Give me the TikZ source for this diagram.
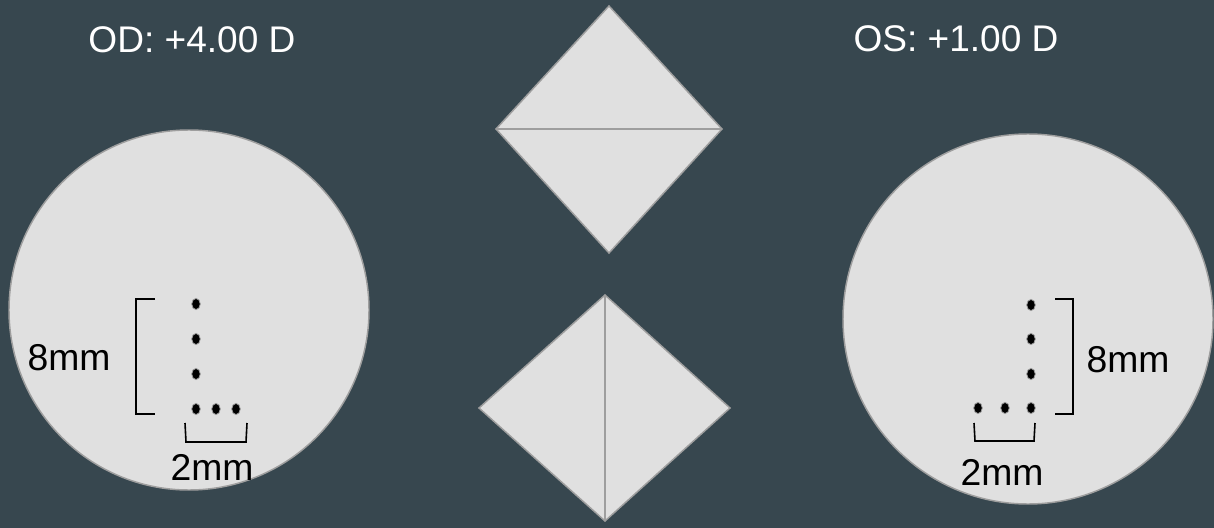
\documentclass[tikz,border=0pt]{standalone}
\usepackage{xcolor}
\usepackage{fontspec}
\setmainfont{Liberation Sans}
\usepackage{tikz}
\usetikzlibrary{shapes.geometric}
\usetikzlibrary{positioning}

\definecolor{slatebg}{HTML}{37474F}
\definecolor{lensfill}{HTML}{E0E0E0}
\definecolor{lensedge}{HTML}{9E9E9E}

\begin{document}
\begin{tikzpicture}[
  x=0.75pt, y=-0.75pt,
  lens/.style={circle, fill=lensfill, draw=lensedge, line width=1.1pt, inner sep=0pt},
  prism/.style={fill=lensfill, draw=lensedge, line width=1.1pt, line join=miter},
  dotmark/.style={ellipse, fill=black, draw=lensedge, line width=0.6pt, minimum width=6.4pt, minimum height=8.4pt, inner sep=0pt},
  title/.style={text=white, font=\fontsize{27.8}{32}\selectfont, inner sep=0pt},
  dimlabel/.style={text=black, font=\fontsize{28}{32}\selectfont, inner sep=0pt},
  bracket/.style={draw=black, line width=1.2pt},
]
\fill[slatebg] (0,0) rectangle (1214,528);
\useasboundingbox (0,0) rectangle (1214,528);

% Titles
\node[title] (od) at (192,40) {OD: +4.00 D};
\node[title] (os) at (956,39) {OS: +1.00 D};

% Lenses
\node[lens, minimum size=270pt] (lensL) at (189,310) {};
\node[lens, minimum size=277.5pt] (lensR) at (1028,319) {};

% Prisms (top: base line horizontal, bottom: vertical)
\draw[prism] (609,6) -- (722,129) -- (609,253) -- (496,129) -- cycle;
\draw[lensedge, line width=1.1pt] (496,129) -- (722,129);
\draw[prism] (605,295) -- (730,408) -- (605,521) -- (479,408) -- cycle;
\draw[lensedge, line width=1.1pt] (605,295) -- (605,521);

% Dots - left eye
\node[dotmark] (l1) at (196,304) {};
\node[dotmark] (l2) at (196,339) {};
\node[dotmark] (l3) at (196,374) {};
\node[dotmark] (l4) at (196,409) {};
\node[dotmark] (l5) at (216,409) {};
\node[dotmark] (l6) at (236,409) {};

% Dots - right eye
\node[dotmark] (r1) at (1031,305) {};
\node[dotmark] (r2) at (1031,339) {};
\node[dotmark] (r3) at (1031,374) {};
\node[dotmark] (r4) at (1031,408) {};
\node[dotmark] (r5) at (1005,408) {};
\node[dotmark] (r6) at (978,408) {};

% Brackets - left eye
\draw[bracket] (155,299) -- (136,299) -- (136,414) -- (155,414);
\draw[bracket] (185,423) -- (186,442) -- (246,442) -- (247,423);
\node[dimlabel] (h8L) at (69,358) {8mm};
\node[dimlabel] (w2L) at (212,467) {2mm};

% Brackets - right eye
\draw[bracket] (1055,299) -- (1073,299) -- (1073,414) -- (1055,414);
\draw[bracket] (974,423) -- (975,441) -- (1034,441) -- (1035,423);
\node[dimlabel] (h8R) at (1128,360) {8mm};
\node[dimlabel] (w2R) at (1002,472) {2mm};

\end{tikzpicture}
\end{document}
